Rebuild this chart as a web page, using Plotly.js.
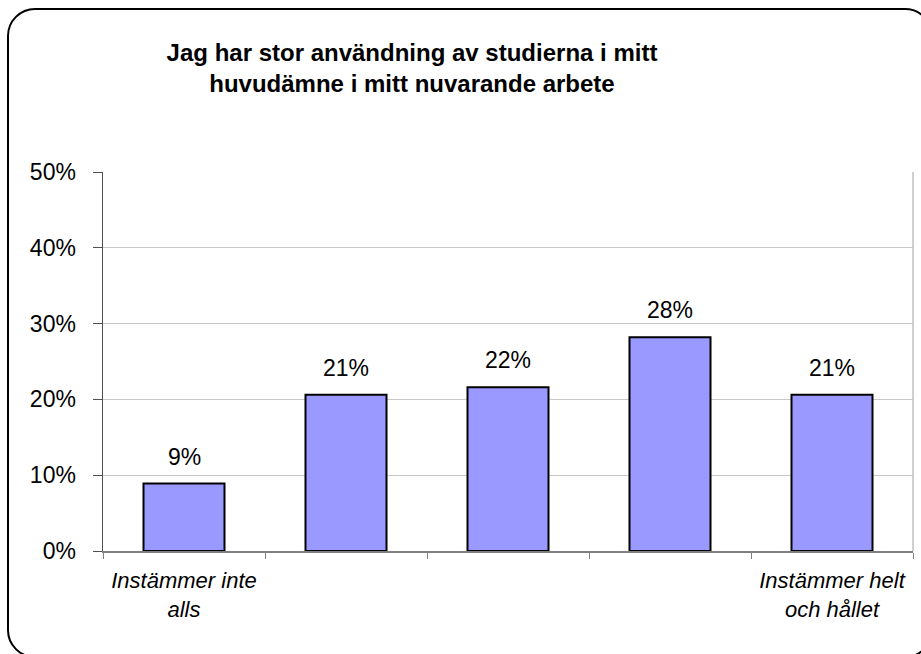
<!DOCTYPE html>
<html>
<head>
<meta charset="utf-8">
<script src="https://cdn.plot.ly/plotly-3.0.1.min.js"></script>
<style>
  html, body { margin: 0; padding: 0; background: #fff; overflow: hidden; }
  #wrap { position: relative; width: 921px; height: 654px; overflow: hidden; }
  #chart { position: absolute; left: 0; top: 0; width: 921px; height: 654px; }
  #frame { position: absolute; left: 7px; top: 8px; width: 926px; height: 650px;
           border: 2px solid #000; border-radius: 28px; pointer-events: none; box-sizing: border-box; }
</style>
</head>
<body>
<div id="wrap">
  <div id="chart"></div>
  <div id="frame"></div>
</div>
<script>
const titleText = 'Jag har stor användning av studierna i mitt<br>huvudämne i mitt nuvarande arbete';
const categories = ['k1', 'k2', 'k3', 'k4', 'k5'];
const categoryLabels = ['Instämmer inte<br>alls', '', '', '', 'Instämmer helt<br>och hållet'];
const values = [0.089, 0.206, 0.216, 0.282, 0.206];
const valueLabels = ['9%', '21%', '22%', '28%', '21%'];
const yTickVals = [0, 0.1, 0.2, 0.3, 0.4, 0.5];
const yTickText = ['0%', '10%', '20%', '30%', '40%', '50%'];

const FONT = '"Liberation Sans", Arial, sans-serif';

const trace = {
  type: 'bar',
  x: categories,
  y: values,
  marker: { color: '#9999FF', line: { color: '#000000', width: 2 } },
  hoverinfo: 'skip'
};

const annotations = categories.map((c, i) => ({
  x: c, y: values[i], xref: 'x', yref: 'y',
  text: valueLabels[i], showarrow: false,
  yanchor: 'bottom', yshift: 12,
  font: { family: FONT, size: 23, color: '#000' }
}));

const layout = {
  width: 921, height: 654,
  margin: { l: 103, r: 8, t: 172, b: 103 },
  paper_bgcolor: '#ffffff', plot_bgcolor: '#ffffff',
  showlegend: false,
  bargap: 0.5,
  title: {
    text: titleText,
    font: { family: FONT, size: 24, color: '#000', weight: 'bold' },
    x: 412 / 921, xref: 'container', xanchor: 'center',
    y: 1 - 61 / 654, yref: 'container', yanchor: 'top'
  },
  xaxis: {
    type: 'category',
    categoryorder: 'array', categoryarray: categories,
    tickmode: 'array', tickvals: categories, ticktext: categoryLabels,
    tickangle: 0,
    tickson: 'boundaries',
    ticks: 'outside', ticklen: 6, tickcolor: '#808080', tickwidth: 1,
    showline: true, linecolor: '#808080', linewidth: 1.5,
    showgrid: false, zeroline: false,
    tickfont: { family: FONT, size: 22, color: '#000', style: 'italic' },
    ticklabelstandoff: 9,
    fixedrange: true
  },
  yaxis: {
    range: [0, 0.5],
    tickmode: 'array', tickvals: yTickVals, ticktext: yTickText,
    ticks: 'outside', ticklen: 9, tickcolor: '#505050', tickwidth: 1,
    showline: true, linecolor: '#505050', linewidth: 1.5,
    showgrid: true, gridcolor: '#c8c8c8', gridwidth: 1,
    zeroline: false,
    tickfont: { family: FONT, size: 23, color: '#000' },
    ticklabelstandoff: 12,
    fixedrange: true
  },
  shapes: [{
    type: 'line', xref: 'paper', yref: 'paper',
    x0: 1, x1: 1, y0: 0, y1: 1,
    line: { color: '#c0c0c0', width: 1.5 }
  }],
  annotations: annotations
};

Plotly.newPlot('chart', [trace], layout, { displayModeBar: false, staticPlot: true });
</script>
</body>
</html>
